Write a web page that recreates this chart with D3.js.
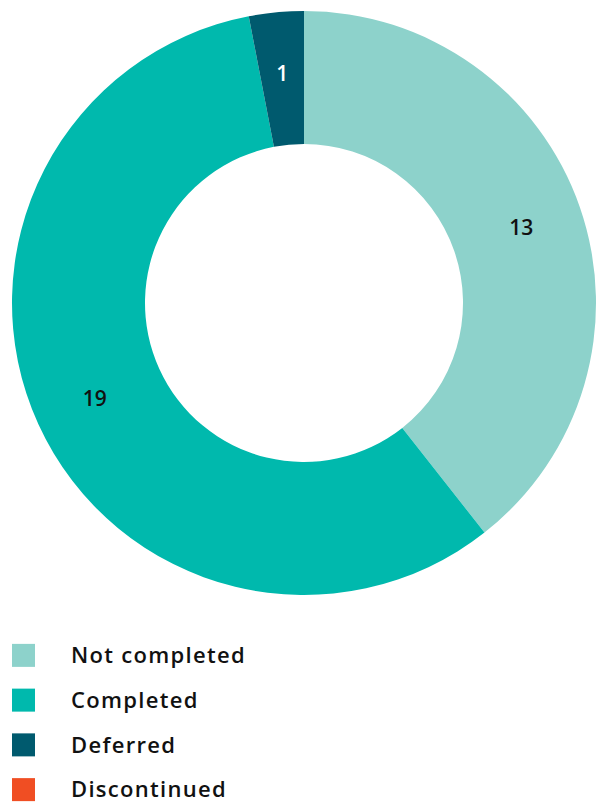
<!DOCTYPE html>
<html>
<head>
<meta charset="utf-8">
<script src="https://cdn.jsdelivr.net/npm/d3@7"></script>
<style>
  body { margin: 0; background: #fff; }
  #chart { width: 598px; height: 803px; }
  text { font-family: "Open Sans", Lato, sans-serif; }
</style>
</head>
<body>
<div id="chart"></div>
<script>
// Data
var categories = ["Not completed", "Completed", "Deferred", "Discontinued"];
var counts = [13, 19, 1, 0];
var colors = ["#8dd2cb", "#00b9ad", "#005a6e", "#f04e23"];

// SVG
var width = 598;
var height = 803;
var svg = d3.select("#chart")
    .append("svg")
    .attr("width", width)
    .attr("height", height);

var cx = 304, cy = 303;
var outerRadius = 292;
var innerRadius = 159;

var colorScale = d3.scaleOrdinal()
    .domain(categories)
    .range(colors);

var data = categories.map(function (c, i) {
    return { name: c, value: counts[i] };
});

var pie = d3.pie()
    .sort(null)
    .value(function (d) { return d.value; });

var arc = d3.arc()
    .innerRadius(innerRadius)
    .outerRadius(outerRadius);

var labelArc = d3.arc()
    .innerRadius(230)
    .outerRadius(230);

var chartG = svg.append("g")
    .attr("transform", "translate(" + cx + "," + cy + ")");

var arcs = pie(data).filter(function (d) { return d.data.value > 0; });

chartG.selectAll(".slice")
    .data(arcs)
    .enter()
    .append("path")
    .attr("class", "slice")
    .attr("d", arc)
    .attr("fill", function (d) { return colorScale(d.data.name); });

chartG.selectAll(".sliceLabel")
    .data(arcs)
    .enter()
    .append("text")
    .attr("class", "sliceLabel")
    .attr("transform", function (d) {
        return "translate(" + labelArc.centroid(d) + ")";
    })
    .attr("text-anchor", "middle")
    .attr("dy", "0.35em")
    .style("font-size", "21px")
    .style("font-weight", 600)
    .attr("fill", function (d) {
        return d.data.name === "Deferred" ? "#fff" : "#111";
    })
    .text(function (d) { return d.data.value; });

// Legend
var legendY = d3.scaleBand()
    .domain(categories)
    .range([633, 812])
    .paddingInner(0);

var legend = svg.append("g").attr("class", "legend");

var item = legend.selectAll(".legendItem")
    .data(categories)
    .enter()
    .append("g")
    .attr("class", "legendItem")
    .attr("transform", function (d) {
        return "translate(0," + (legendY(d) + legendY.bandwidth() / 2) + ")";
    });

item.append("rect")
    .attr("x", 12)
    .attr("y", -11.5)
    .attr("width", 23)
    .attr("height", 23)
    .attr("fill", function (d) { return colorScale(d); });

item.append("text")
    .attr("x", 71)
    .attr("y", 0)
    .attr("dy", "0.35em")
    .style("font-size", "22px")
    .style("font-weight", 600)
    .style("letter-spacing", "1.3px")
    .attr("fill", "#111")
    .text(function (d) { return d; });
</script>
</body>
</html>
